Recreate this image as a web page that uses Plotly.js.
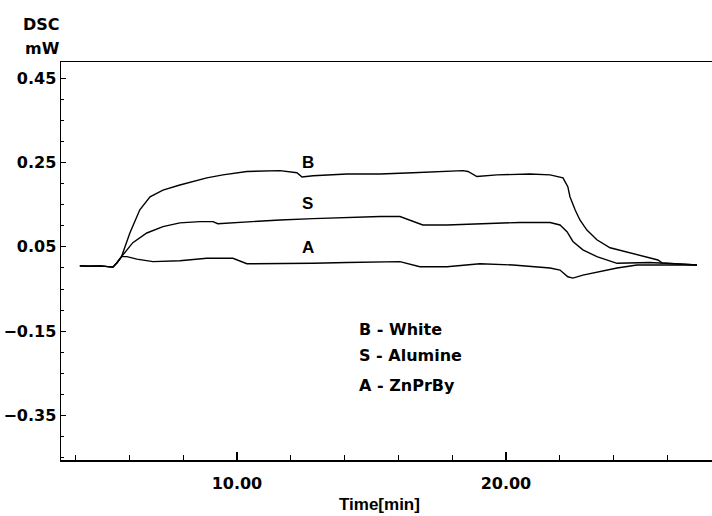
<!DOCTYPE html>
<html>
<head>
<meta charset="utf-8">
<script src="https://cdn.plot.ly/plotly-3.0.1.min.js"></script>
<style>html,body{margin:0;padding:0;background:#fff;}#chart{width:712px;height:516px;}</style>
</head>
<body>
<div id="chart"></div>
<script>
// Shared baseline before the curves separate
var baseTime = [4.16, 4.5, 4.91, 5.2, 5.39, 5.55];
var baseDsc  = [0.005, 0.004, 0.005, 0.004, 0.002, 0.013];

// B - White
var timeB = [5.71, 6.02, 6.39, 6.77, 7.25, 7.88, 8.88, 9.48, 10.37, 11.60, 12.23, 12.42, 12.83, 14.09, 15.32, 16.54, 17.81, 18.40, 18.59, 18.92, 19.67, 20.89, 21.64, 22.12, 22.30, 22.38, 22.57, 22.75, 23.01, 23.38, 23.87, 24.61, 25.35, 25.65, 25.80, 27.10];
var dscB  = [0.027, 0.083, 0.138, 0.169, 0.185, 0.197, 0.214, 0.221, 0.229, 0.231, 0.226, 0.216, 0.219, 0.223, 0.223, 0.226, 0.229, 0.231, 0.229, 0.217, 0.221, 0.223, 0.221, 0.214, 0.193, 0.169, 0.138, 0.114, 0.090, 0.067, 0.048, 0.036, 0.024, 0.019, 0.012, 0.007];

// S - Alumine
var timeS = [5.71, 6.13, 6.65, 7.25, 7.88, 8.62, 9.11, 9.29, 10.37, 11.60, 12.83, 14.09, 15.32, 16.06, 16.43, 16.91, 17.81, 19.03, 20.52, 21.64, 22.01, 22.27, 22.49, 22.86, 23.38, 24.13, 24.87, 25.35, 27.10];
var dscS  = [0.027, 0.060, 0.083, 0.098, 0.107, 0.110, 0.110, 0.105, 0.110, 0.114, 0.117, 0.120, 0.122, 0.122, 0.114, 0.102, 0.102, 0.105, 0.108, 0.108, 0.102, 0.086, 0.063, 0.043, 0.027, 0.011, 0.013, 0.013, 0.007];

// A - ZnPrBy
var timeA = [5.71, 5.91, 6.28, 6.88, 7.88, 8.88, 9.85, 10.37, 11.60, 12.83, 14.09, 15.32, 16.06, 16.80, 17.81, 19.03, 20.26, 21.64, 22.01, 22.30, 22.49, 22.86, 23.49, 24.13, 24.87, 27.10];
var dscA  = [0.027, 0.027, 0.021, 0.015, 0.017, 0.023, 0.023, 0.010, 0.010, 0.011, 0.013, 0.015, 0.015, 0.003, 0.003, 0.010, 0.007, 0.0, -0.005, -0.021, -0.024, -0.017, -0.009, 0.0, 0.007, 0.007];

var curveLabels = ['B', 'S', 'A'];
var curveLabelTime = [12.64, 12.64, 12.64];
var curveLabelDsc = [0.250, 0.154, 0.048];

var legendLines = ['B - White', 'S - Alumine', 'A - ZnPrBy'];
var legendTime = 14.46;
var legendDsc = [-0.145, -0.207, -0.278];

var lineStyle = {color: '#000', width: 1.4};
function series(t, v) {
  return {x: baseTime.concat(t), y: baseDsc.concat(v), type: 'scatter', mode: 'lines', line: lineStyle, hoverinfo: 'skip'};
}
var data = [series(timeB, dscB), series(timeS, dscS), series(timeA, dscA)];

var numFont = {family: 'DejaVu Sans', size: 16, color: '#000', weight: 'bold'};
var annotations = [];
for (var i = 0; i < curveLabels.length; i++) {
  annotations.push({x: curveLabelTime[i], y: curveLabelDsc[i], xref: 'x', yref: 'y', yanchor: 'middle', text: curveLabels[i], showarrow: false,
    font: {family: 'Liberation Sans', size: 17, color: '#000', weight: 'bold'}});
}
for (var j = 0; j < legendLines.length; j++) {
  annotations.push({x: legendTime, y: legendDsc[j], xref: 'x', yref: 'y', xanchor: 'left', yanchor: 'middle', text: legendLines[j], showarrow: false,
    font: {family: 'DejaVu Sans', size: 16, color: '#000', weight: 'bold'}});
}
annotations.push({x: 0, y: 1.095, xref: 'paper', yref: 'paper', xanchor: 'right', yanchor: 'middle', xshift: 1, text: 'DSC', showarrow: false, font: numFont});
annotations.push({x: 0, y: 1.033, xref: 'paper', yref: 'paper', xanchor: 'right', yanchor: 'middle', xshift: 1, text: 'mW', showarrow: false, font: numFont});
annotations.push({x: 0.489, y: -0.113, xref: 'paper', yref: 'paper', yanchor: 'middle', text: 'Time[min]', showarrow: false,
  font: {family: 'Liberation Sans', size: 17, color: '#000', weight: 'bold'}});

var layout = {
  width: 712, height: 516,
  margin: {l: 61, r: 0, t: 62, b: 56},
  paper_bgcolor: '#fff', plot_bgcolor: '#fff',
  showlegend: false,
  xaxis: {
    range: [3.46, 27.66], showgrid: false, zeroline: false,
    showline: true, linecolor: '#000', linewidth: 1.5, mirror: true,
    ticks: 'inside', ticklen: 8, tickcolor: '#000', tickwidth: 1.2,
    tick0: 0, dtick: 10, tickformat: '.2f', ticklabelstandoff: 8,
    minor: {dtick: 2, ticks: 'inside', ticklen: 5, tickcolor: '#000', tickwidth: 1, showgrid: false},
    tickfont: numFont
  },
  yaxis: {
    range: [-0.456, 0.489], showgrid: false, zeroline: false,
    showline: true, linecolor: '#000', linewidth: 1.5,
    ticks: 'inside', ticklen: 5, tickcolor: '#000', tickwidth: 1.2,
    tick0: 0.05, dtick: 0.2, tickformat: '.2f',
    minor: {dtick: 0.05, ticks: 'inside', ticklen: 3, tickcolor: '#000', tickwidth: 1, showgrid: false},
    tickfont: numFont
  },
  annotations: annotations
};
Plotly.newPlot('chart', data, layout, {displayModeBar: false, staticPlot: true});
</script>
</body>
</html>
